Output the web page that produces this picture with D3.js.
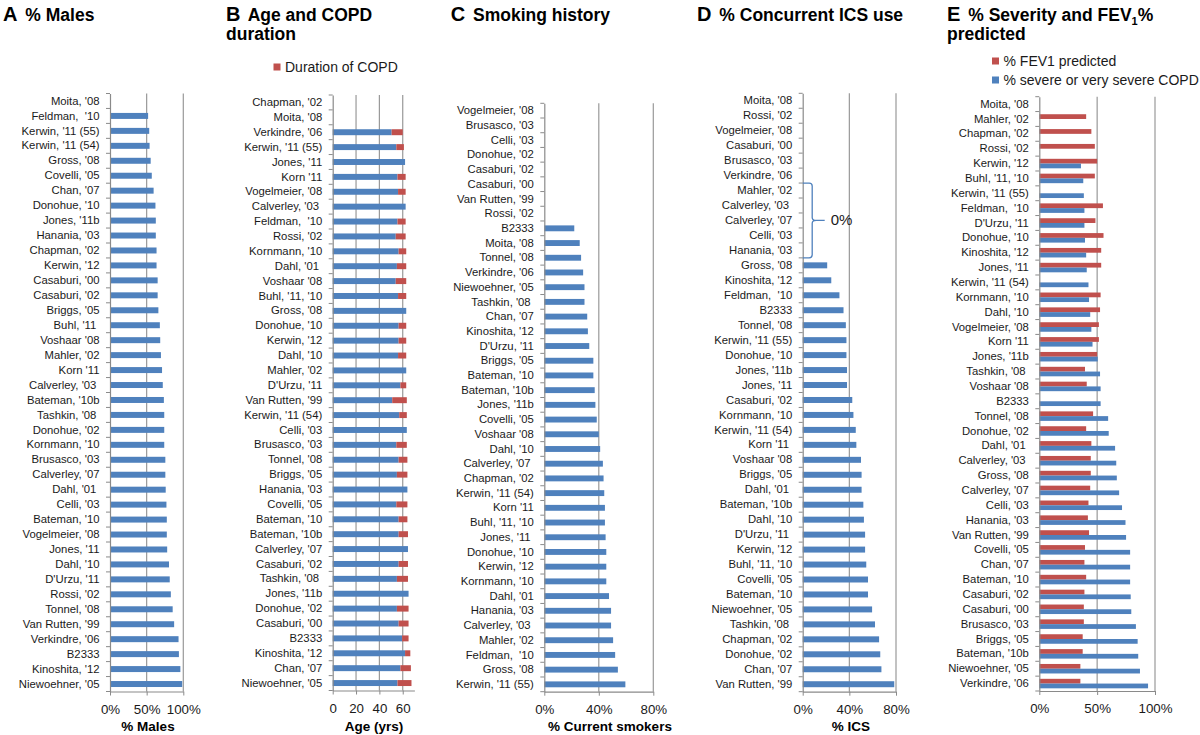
<!DOCTYPE html>
<html>
<head>
<meta charset="utf-8">
<script src="https://cdn.jsdelivr.net/npm/d3@7"></script>
<style>
  body { margin: 0; background: #fff; }
  svg { font-family: Arial, "Liberation Sans", sans-serif; }
  text { white-space: pre; }
</style>
</head>
<body>
<svg id="chart" width="1200" height="735"></svg>
<script>
const BLUE = "#4F81BD";
const RED = "#C0504D";

// A - % males
const malesLabels = ["Moita, '08", "Feldman,  '10", "Kerwin, '11 (55)", "Kerwin, '11 (54)", "Gross, '08", "Covelli, '05", "Chan, '07", "Donohue, '10", "Jones, '11b", "Hanania, '03", "Chapman, '02", "Kerwin, '12", "Casaburi, '00", "Casaburi, '02", "Briggs, '05", "Buhl, '11 ", "Voshaar '08", "Mahler, '02", "Korn '11", "Calverley, '03 ", "Bateman, '10b", "Tashkin, '08 ", "Donohue, '02", "Kornmann, '10", "Brusasco, '03", "Calverley, '07", "Dahl, '01 ", "Celli, '03", "Bateman, '10", "Vogelmeier, '08", "Jones, '11", "Dahl, '10", "D'Urzu, '11", "Rossi, '02", "Tonnel, '08", "Van Rutten, '99", "Verkindre, '06", "B2333", "Kinoshita, '12", "Niewoehner, '05"];
const malesValues = [null, 52, 53.5, 54, 55.5, 57, 59.5, 62, 62.5, 62.5, 63.5, 63.5, 65, 65, 66, 68, 68.5, 69.5, 71, 72, 73.5, 74, 74, 74, 75.5, 75.5, 76, 77, 77.5, 77.5, 78, 80.5, 81.5, 83, 85.5, 87.5, 93.5, 94, 96, 98.5];

// B - age and COPD duration
const ageLabels = ["Chapman, '02", "Moita, '08", "Verkindre, '06", "Kerwin, '11 (55)", "Jones, '11", "Korn '11", "Vogelmeier, '08", "Calverley, '03 ", "Feldman,  '10", "Rossi, '02", "Kornmann, '10", "Dahl, '01 ", "Voshaar '08", "Buhl, '11, '10", "Gross, '08", "Donohue, '10", "Kerwin, '12", "Dahl, '10", "Mahler, '02", "D'Urzu, '11", "Van Rutten, '99", "Kerwin, '11 (54)", "Celli, '03", "Brusasco, '03", "Tonnel, '08", "Briggs, '05", "Hanania, '03", "Covelli, '05", "Bateman, '10", "Bateman, '10b", "Calverley, '07", "Casaburi, '02", "Tashkin, '08 ", "Jones, '11b", "Donohue, '02", "Casaburi, '00", "B2333", "Kinoshita, '12", "Chan, '07", "Niewoehner, '05"];
const ageBase = [null, null, 50.5, 54.5, 62, 55.5, 56, 62.5, 55.5, 54, 56.5, 55, 54, 56, 63, 56.5, 56.5, 56, 63, 58, 51, 57, 63.5, 54.5, 56.5, 55, 64, 54.5, 56.5, 56.5, 64.5, 56.5, 55, 65, 55, 56.5, 59.5, 62, 58, 55.5];
const copdDuration = [null, null, 9.5, 6.5, null, 7, 6.5, null, 7, 8.5, 6.5, 8, 9, 7, null, 6.5, 6.5, 7, null, 5, 12.5, 6.5, null, 9, 7.5, 9, null, 9.5, 7.5, 8, null, 8, 9.5, null, 10, 8.5, 5.5, 4.5, 9, 12];

// C - current smokers
const smokeLabels = ["Vogelmeier, '08", "Brusasco, '03", "Celli, '03", "Donohue, '02", "Casaburi, '02", "Casaburi, '00", "Van Rutten, '99", "Rossi, '02", "B2333", "Moita, '08", "Tonnel, '08", "Verkindre, '06", "Niewoehner, '05", "Tashkin, '08 ", "Chan, '07", "Kinoshita, '12", "D'Urzu, '11", "Briggs, '05", "Bateman, '10", "Bateman, '10b", "Jones, '11b", "Covelli, '05", "Voshaar '08", "Dahl, '10", "Calverley, '07 ", "Chapman, '02", "Kerwin, '11 (54)", "Korn '11", "Buhl, '11, '10", "Jones, '11 ", "Donohue, '10", "Kerwin, '12", "Kornmann, '10", "Dahl, '01", "Hanania, '03", "Calverley, '03 ", "Mahler, '02", "Feldman,  '10", "Gross, '08", "Kerwin, '11 (55)"];
const smokeValues = [null, null, null, null, null, null, null, null, 22, 26, 27, 28.5, 29.5, 29.5, 31.5, 32, 33, 36, 36, 37, 37.5, 38.5, 40, 41, 43, 43.5, 44, 44.5, 44.5, 45, 45.5, 45.5, 45.5, 47.5, 49, 49, 50.5, 52, 54, 59.5];

// D - concurrent ICS (0 = reported as 0%)
const icsLabels = ["Moita, '08", "Rossi, '02", "Vogelmeier, '08", "Casaburi, '00", "Brusasco, '03", "Verkindre, '06", "Mahler, '02", "Calverley, '03 ", "Calverley, '07", "Celli, '03", "Hanania, '03", "Gross, '08", "Kinoshita, '12", "Feldman,  '10", "B2333", "Tonnel, '08", "Kerwin, '11 (55)", "Donohue, '10", "Jones, '11b", "Jones, '11", "Casaburi, '02", "Kornmann, '10", "Kerwin, '11 (54)", "Korn '11 ", "Voshaar '08", "Briggs, '05", "Dahl, '01 ", "Bateman, '10b", "Dahl, '10", "D'Urzu, '11 ", "Kerwin, '12", "Buhl, '11, '10", "Covelli, '05", "Bateman, '10", "Niewoehner, '05", "Tashkin, '08 ", "Chapman, '02", "Donohue, '02", "Chan, '07", "Van Rutten, '99"];
const icsValues = [null, null, null, null, null, null, 0, 0, 0, 0, 0, 21, 24.5, 31.5, 35, 37, 37.5, 37.5, 38, 38, 42.5, 43.5, 45.5, 46, 50, 50.5, 50.5, 52, 52.5, 53.5, 53.5, 54.5, 56, 56, 59.5, 62, 65.5, 66.5, 67.5, 78.5];

// E - severity and FEV1 % predicted
const fevLabels = ["Moita, '08", "Mahler, '02", "Chapman, '02", "Rossi, '02", "Kerwin, '12", "Buhl, '11, '10", "Kerwin, '11 (55)", "Feldman,  '10", "D'Urzu, '11", "Donohue, '10", "Kinoshita, '12", "Jones, '11", "Kerwin, '11 (54)", "Kornmann, '10", "Dahl, '10", "Vogelmeier, '08", "Korn '11", "Jones, '11b", "Tashkin, '08 ", "Voshaar '08", "B2333", "Tonnel, '08", "Donohue, '02", "Dahl, '01 ", "Calverley, '03 ", "Gross, '08", "Calverley, '07", "Celli, '03", "Hanania, '03", "Van Rutten, '99", "Covelli, '05", "Chan, '07", "Bateman, '10", "Casaburi, '02", "Casaburi, '00", "Brusasco, '03", "Briggs, '05", "Bateman, '10b", "Niewoehner, '05", "Verkindre, '06"];
const fevPredicted = [null, 40.5, 45, 48, 50, 48, null, 55, 48.5, 55.5, 53.5, 53.5, null, 53, 52.5, 51.5, 51.5, 50, 39.5, 41, null, 46.5, 40.5, 45, 44.5, 44.5, 44, 42.5, 42, 43, 39.5, 39, 40.5, 39, 38.5, 38.5, 37.5, 37.5, 35.5, 35.5];
const severePct = [null, null, null, null, 36, 38, 38.5, 39, 39, 39.5, 40.5, 41, 42.5, 43, 44, 45, 46, 50.5, 52.5, 53, 53, 59.5, 60, 65.5, 66.5, 67, 69, 71.5, 74.5, 75, 78.5, 78.5, 78.5, 79, 79.5, 83.5, 85, 85.5, 87, 94];

const pct = d => d + "%";

const panels = [
  { x0: 110, x1: 183.3, max: 100, top: 93.5, bottom: 691.5, ticks: [0, 50, 100], fmt: pct,
    labels: malesLabels, mode: "single", series: [{ values: malesValues, color: BLUE }],
    axisTitle: "% Males", axisTitleX: 148 },
  { x0: 332.7, x1: 414.4, max: 70, top: 95, bottom: 690.5, ticks: [0, 20, 40, 60], fmt: d => d,
    labels: ageLabels, mode: "stack", series: [{ values: ageBase, color: BLUE }, { values: copdDuration, color: RED }],
    axisTitle: "Age (yrs)", axisTitleX: 374 },
  { x0: 544.3, x1: 653.3, max: 80, top: 103.3, bottom: 691.7, ticks: [0, 40, 80], fmt: pct,
    labels: smokeLabels, mode: "single", series: [{ values: smokeValues, color: BLUE }],
    axisTitle: "% Current smokers", axisTitleX: 610 },
  { x0: 802.7, x1: 896, max: 80, top: 93.3, bottom: 691.7, ticks: [0, 40, 80], fmt: pct,
    labels: icsLabels, mode: "single", series: [{ values: icsValues, color: BLUE }],
    axisTitle: "% ICS", axisTitleX: 851 },
  { x0: 1039.3, x1: 1155, max: 100, top: 96.7, bottom: 691, ticks: [0, 50, 100], fmt: pct,
    labels: fevLabels, mode: "group", series: [{ values: fevPredicted, color: RED }, { values: severePct, color: BLUE }],
    axisTitle: null }
];

const svg = d3.select("#chart");
const AXIS_GREY = "#8a8a8a";
const GRID_GREY = "#999";

function drawPanel(p) {
  const g = svg.append("g");
  const n = p.labels.length;
  const x = d3.scaleLinear().domain([0, p.max]).range([p.x0, p.x1]);
  const pad = p.mode === "group" ? 0.36 : 0.6;
  const y = d3.scaleBand().domain(d3.range(n)).range([p.top, p.bottom])
    .paddingInner(pad).paddingOuter(pad / 2);

  // gridlines
  g.selectAll(".grid").data(p.ticks.filter(t => t > 0)).enter()
    .append("line")
    .attr("x1", d => x(d)).attr("x2", d => x(d))
    .attr("y1", p.top).attr("y2", p.bottom)
    .attr("stroke", GRID_GREY).attr("stroke-width", 1.2);

  // bars
  if (p.mode === "single") {
    const s = p.series[0];
    g.selectAll(".bar").data(s.values.map((v, i) => ({ v, i })).filter(d => d.v))
      .enter().append("rect")
      .attr("x", x(0)).attr("y", d => y(d.i))
      .attr("width", d => x(d.v) - x(0)).attr("height", y.bandwidth())
      .attr("fill", s.color);
  } else if (p.mode === "stack") {
    const rows = d3.range(n).map(i => ({ i, a: p.series[0].values[i] || 0, b: p.series[1].values[i] || 0 }));
    g.selectAll(".barA").data(rows.filter(d => d.a)).enter().append("rect")
      .attr("x", x(0)).attr("y", d => y(d.i))
      .attr("width", d => x(d.a) - x(0)).attr("height", y.bandwidth())
      .attr("fill", p.series[0].color);
    g.selectAll(".barB").data(rows.filter(d => d.b)).enter().append("rect")
      .attr("x", d => x(d.a)).attr("y", d => y(d.i))
      .attr("width", d => x(d.a + d.b) - x(d.a)).attr("height", y.bandwidth())
      .attr("fill", p.series[1].color);
  } else {
    const sub = d3.scaleBand().domain(d3.range(p.series.length)).range([0, y.bandwidth()]);
    p.series.forEach((s, k) => {
      g.selectAll(".bar" + k).data(s.values.map((v, i) => ({ v, i })).filter(d => d.v))
        .enter().append("rect")
        .attr("x", x(0)).attr("y", d => y(d.i) + sub(k))
        .attr("width", d => x(d.v) - x(0)).attr("height", sub.bandwidth())
        .attr("fill", s.color);
    });
  }

  // y axis with category labels
  const yAxis = g.append("g").attr("transform", `translate(${p.x0},0)`)
    .call(d3.axisLeft(y).tickSize(0).tickSizeOuter(0).tickPadding(10.5).tickFormat(i => p.labels[i]));
  yAxis.select(".domain").attr("stroke", AXIS_GREY).attr("stroke-width", 1.2);
  yAxis.selectAll("text").attr("font-size", 11.3).attr("fill", "#1a1a1a").attr("font-family", null);

  // tick marks between categories
  g.selectAll(".ytick").data(d3.range(n + 1)).enter().append("line")
    .attr("x1", p.x0 - 4).attr("x2", p.x0)
    .attr("y1", i => p.top + i * y.step()).attr("y2", i => p.top + i * y.step())
    .attr("stroke", AXIS_GREY);

  // x axis
  const xAxis = g.append("g").attr("transform", `translate(0,${p.bottom})`)
    .call(d3.axisBottom(x).tickValues(p.ticks).tickFormat(p.fmt).tickSize(4).tickSizeOuter(0).tickPadding(9));
  xAxis.select(".domain").attr("stroke", AXIS_GREY).attr("stroke-width", 1.2);
  xAxis.selectAll(".tick line").attr("stroke", AXIS_GREY);
  xAxis.selectAll("text").attr("font-size", 13.3).attr("fill", "#1a1a1a").attr("font-family", null);

  if (p.axisTitle) {
    svg.append("text").attr("x", p.axisTitleX).attr("y", 731)
      .attr("text-anchor", "middle").attr("font-size", 13.5).attr("font-weight", "bold")
      .text(p.axisTitle);
  }
  return { x, y };
}

const scales = panels.map(drawPanel);

// brace for the 0% ICS studies in panel D
(function () {
  const p = panels[3];
  const y = scales[3].y;
  const zeroIdx = icsValues.map((v, i) => (v === 0 ? i : -1)).filter(i => i >= 0);
  const y1 = p.top + zeroIdx[0] * y.step();
  const y2 = p.top + (zeroIdx[zeroIdx.length - 1] + 1) * y.step();
  const ym = (y1 + y2) / 2;
  const xa = p.x0, xb = p.x0 + 9.5, xt = p.x0 + 22;
  const path = `M${xa},${y1} H${xb - 3} Q${xb},${y1} ${xb},${y1 + 3} V${ym - 3} Q${xb},${ym} ${xb + 4},${ym} H${xt}` +
    ` M${xb + 4},${ym} Q${xb},${ym} ${xb},${ym + 3} V${y2 - 3} Q${xb},${y2} ${xb - 3},${y2} H${xa}`;
  svg.append("path").attr("d", path).attr("fill", "none").attr("stroke", BLUE).attr("stroke-width", 1.3);
  svg.append("text").attr("x", xt + 6).attr("y", ym + 5).attr("font-size", 15).attr("fill", "#1a1a1a").text("0%");
})();

// panel titles
function title(x, letter, line1, line2, sub) {
  const t = svg.append("text").attr("x", x).attr("y", 21).attr("font-weight", "bold").attr("fill", "#000");
  t.append("tspan").attr("font-size", 20).text(letter);
  t.append("tspan").attr("font-size", 17.5).attr("dx", 3).text(" " + line1);
  if (sub) {
    t.append("tspan").attr("font-size", 11).attr("dy", 4).text(sub.s);
    t.append("tspan").attr("font-size", 17.5).attr("dy", -4).text(sub.after);
  }
  if (line2) {
    svg.append("text").attr("x", x).attr("y", 40).attr("font-weight", "bold")
      .attr("font-size", 17.5).text(line2);
  }
}
title(3, "A", "% Males");
title(226, "B", "Age and COPD", "duration");
title(450.7, "C", "Smoking history");
title(697, "D", "% Concurrent ICS use");
title(947, "E", "% Severity and FEV", "predicted", { s: "1", after: "%" });

// legends
const legendB = [{ label: "Duration of COPD", color: RED }];
const legendE = [{ label: "% FEV1 predicted", color: RED }, { label: "% severe or very severe COPD", color: BLUE }];
function legend(items, x, y0) {
  const lg = svg.append("g");
  items.forEach((d, i) => {
    lg.append("rect").attr("x", x).attr("y", y0 + i * 19 - 3.5).attr("width", 7).attr("height", 7).attr("fill", d.color);
    lg.append("text").attr("x", x + 11.5).attr("y", y0 + i * 19 + 5).attr("font-size", 14).attr("fill", "#1a1a1a").text(d.label);
  });
}
legend(legendB, 273.5, 67);
legend(legendE, 992, 61);
</script>
</body>
</html>
